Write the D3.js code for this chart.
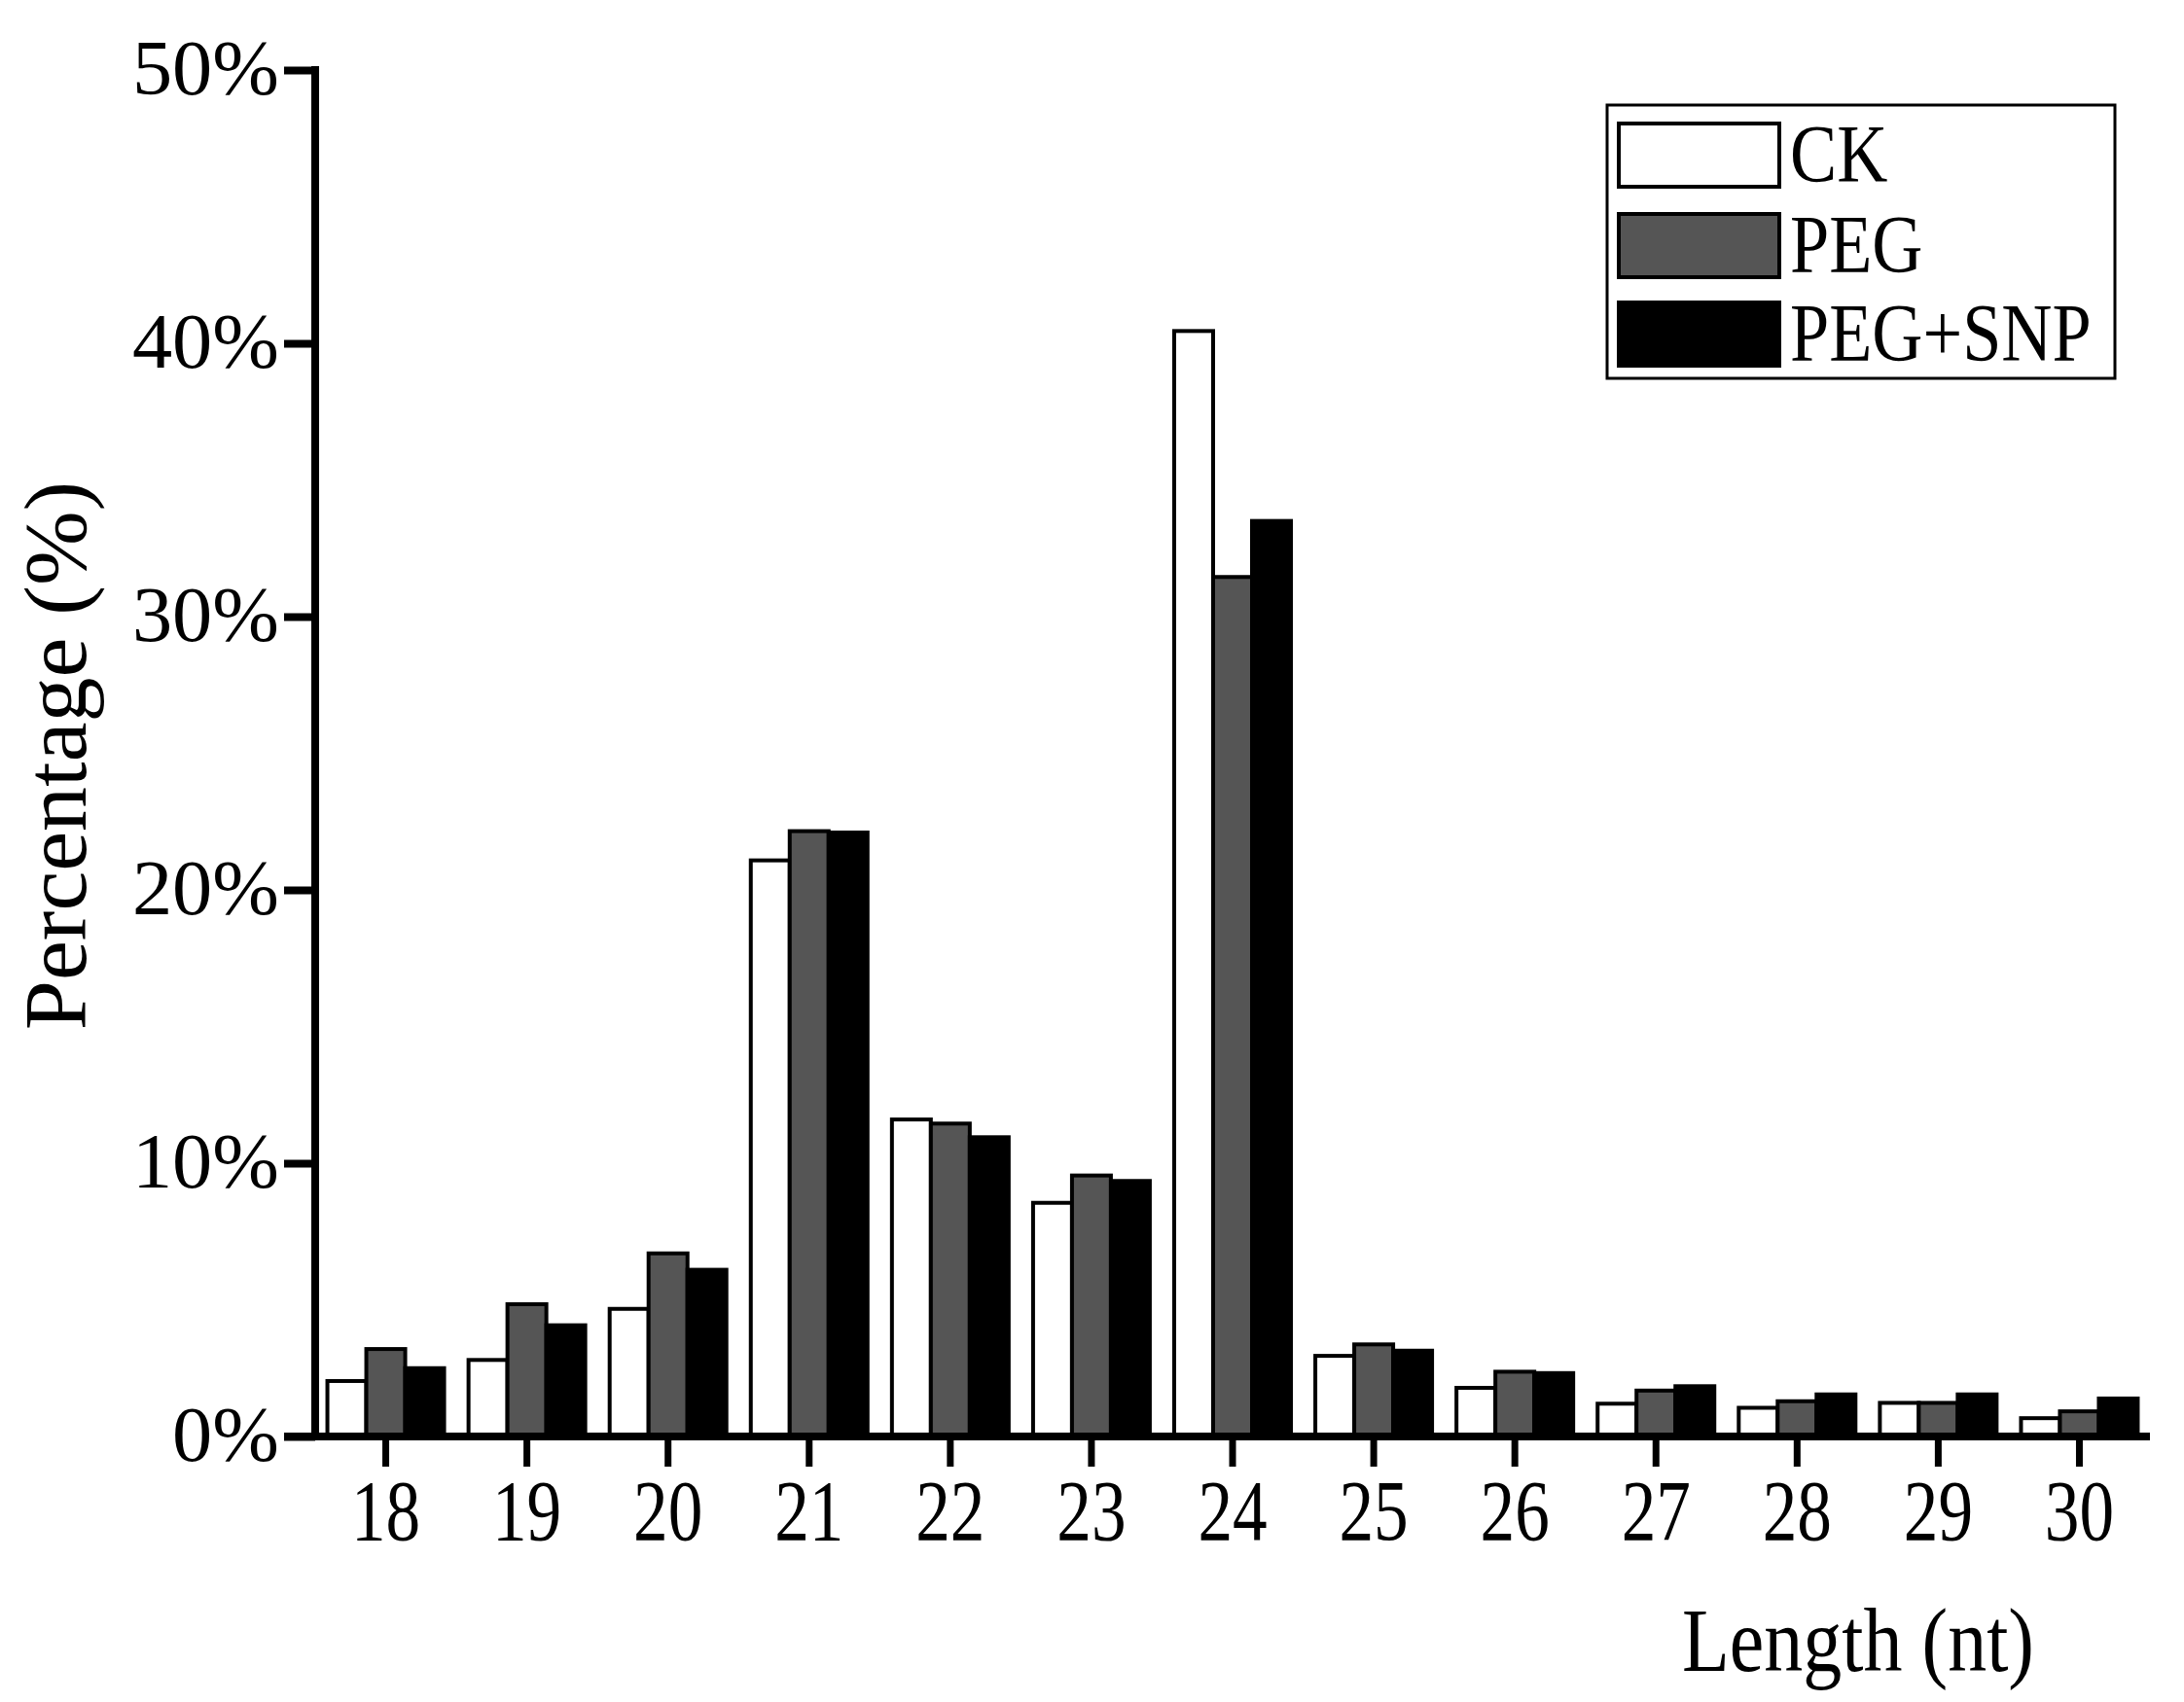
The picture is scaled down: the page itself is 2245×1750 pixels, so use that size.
<!DOCTYPE html>
<html>
<head>
<meta charset="utf-8">
<script src="https://cdn.jsdelivr.net/npm/d3@7"></script>
<style>
    body { margin: 0; background: #fff; }
    text { font-family: 'Liberation Serif', 'Times New Roman', serif; fill: #000; }
</style>
</head>
<body>
<svg class="canvas" width="2245" height="1750"></svg>
<script>
const lengths = ['18', '19', '20', '21', '22', '23', '24', '25', '26', '27', '28', '29', '30'];
const seriesNames = ['CK', 'PEG', 'PEG+SNP'];
const ckValues = [2.03, 2.8, 4.67, 21.08, 11.6, 8.55, 40.45, 2.95, 1.78, 1.2, 1.05, 1.23, 0.67];
const pegValues = [3.2, 4.84, 6.7, 22.15, 11.45, 9.55, 31.45, 3.37, 2.37, 1.68, 1.29, 1.23, 0.92];
const snpValues = [2.5, 4.07, 6.1, 22.1, 10.95, 9.35, 33.5, 3.14, 2.32, 1.84, 1.54, 1.54, 1.39];
const yTicks = [0, 10, 20, 30, 40, 50];

const fills = ['#ffffff', '#555555', '#000000'];
const allValues = [ckValues, pegValues, snpValues];

const canvas = d3.select('.canvas');

const x = d3.scaleBand()
    .domain(lengths)
    .range([324, 2210]);

const groupWidth = 120;
const x1 = d3.scaleBand()
    .domain(seriesNames)
    .range([0, groupWidth]);

const y = d3.scaleLinear()
    .domain([0, 50])
    .range([1477, 72]);

const rows = lengths.map((len, i) => ({
    len,
    values: seriesNames.map((name, k) => ({ name, value: allValues[k][i], fill: fills[k] }))
}));

// bars
canvas.append('g')
    .selectAll('g')
    .data(rows)
    .enter()
    .append('g')
    .attr('transform', d => `translate(${x(d.len) + (x.bandwidth() - groupWidth) / 2}, 0)`)
    .selectAll('rect')
    .data(d => d.values)
    .enter()
    .append('rect')
    .attr('x', d => x1(d.name))
    .attr('y', d => y(d.value))
    .attr('width', x1.bandwidth())
    .attr('height', d => y(0) - y(d.value))
    .attr('fill', d => d.fill)
    .attr('stroke', '#000')
    .attr('stroke-width', 4);

// y axis
const yAxis = d3.axisLeft(y)
    .tickValues(yTicks)
    .tickFormat(d => d + '%')
    .tickSize(32)
    .tickSizeOuter(0)
    .tickPadding(4);

canvas.append('g')
    .attr('transform', 'translate(324, 0)')
    .call(yAxis)
    .call(g => g.select('.domain').attr('stroke-width', 8).attr('d', 'M0,68V1477'))
    .call(g => g.selectAll('.tick line').attr('stroke-width', 8))
    .call(g => g.selectAll('.tick text')
        .attr('font-size', 80)
        .attr('font-family', 'Liberation Serif')
        .attr('dy', '0.3em')
        .attr('transform', 'scale(1.03,1)'));

// x axis
const xAxis = d3.axisBottom(x)
    .tickSize(31)
    .tickSizeOuter(0);

canvas.append('g')
    .attr('transform', 'translate(0, 1477)')
    .call(xAxis)
    .call(g => g.select('.domain').attr('stroke-width', 8).attr('d', 'M292,0H2210'))
    .call(g => g.selectAll('.tick line').attr('stroke-width', 7))
    .call(g => g.selectAll('.tick text')
        .attr('font-size', 89)
        .attr('font-family', 'Liberation Serif')
        .attr('y', 106)
        .attr('dy', null)
        .attr('transform', 'scale(0.8,1)'));

// axis titles
canvas.append('text')
    .attr('transform', 'translate(88, 777) rotate(-90)')
    .attr('text-anchor', 'middle')
    .attr('font-size', 92)
    .text('Percentage (%)');

canvas.append('text')
    .attr('transform', 'translate(1910, 1718) scale(0.86,1)')
    .attr('text-anchor', 'middle')
    .attr('font-size', 93)
    .text('Length (nt)');

// legend
const legend = canvas.append('g')
    .attr('id', 'legend')
    .attr('transform', 'translate(1652, 108)');

legend.append('rect')
    .attr('width', 522)
    .attr('height', 281)
    .attr('fill', '#fff')
    .attr('stroke', '#000')
    .attr('stroke-width', 3);

const legendRows = [19, 112, 203];
legend.selectAll('g.item')
    .data(seriesNames)
    .enter()
    .append('g')
    .attr('class', 'item')
    .attr('transform', (d, i) => `translate(12, ${legendRows[i]})`)
    .call(g => g.append('rect')
        .attr('width', 165)
        .attr('height', 65)
        .attr('fill', (d, i) => fills[i])
        .attr('stroke', '#000')
        .attr('stroke-width', 4))
    .call(g => g.append('text')
        .attr('transform', 'translate(176, 60) scale(0.86,1)')
        .attr('font-size', 84)
        .text(d => d));
</script>
</body>
</html>
